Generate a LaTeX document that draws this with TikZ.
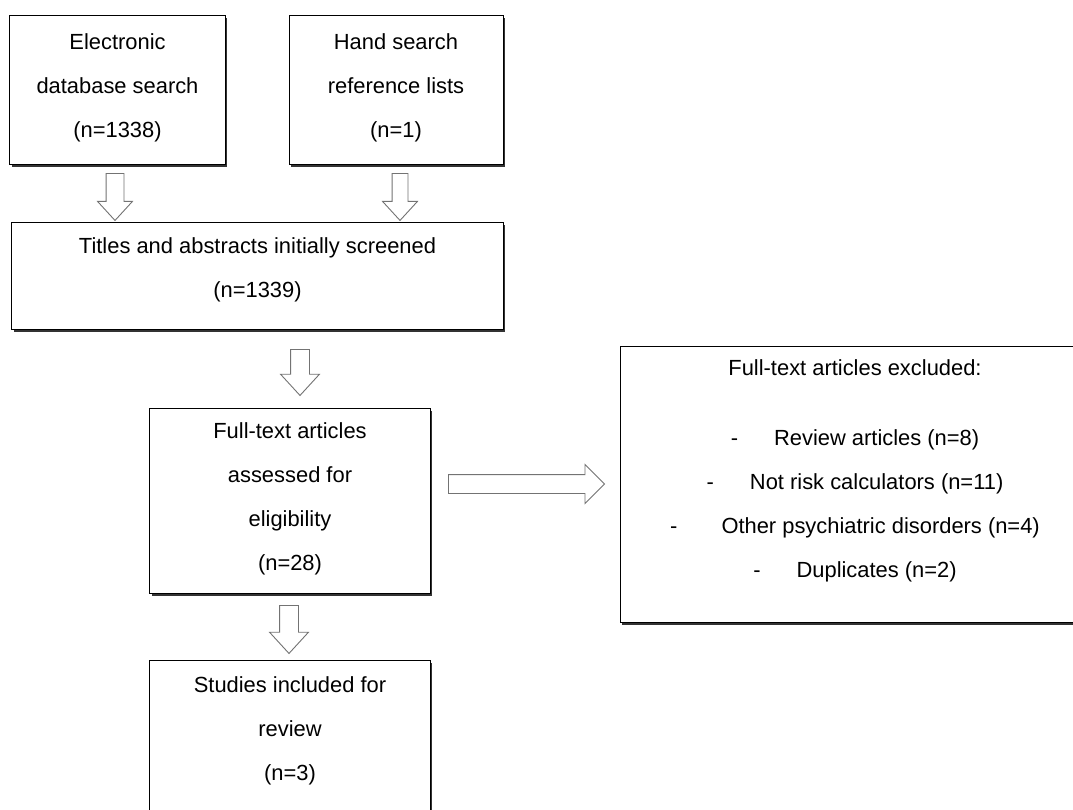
\documentclass[tikz,border=0pt]{standalone}
\usepackage{fontspec}
\setmainfont{Liberation Sans}
\usetikzlibrary{shapes.arrows,shadows}

\begin{document}
\begin{tikzpicture}[x=1bp, y=-1bp]
  % \draw[help lines] (0,0) grid (1073,810);

  \tikzset{box/.style={rectangle,draw,line width=1bp,fill=white,align=center,
      inner sep=0pt,font=\fontsize{21.9bp}{44bp}\selectfont,
      drop shadow={shadow xshift=2bp,shadow yshift=-2.5bp,opacity=1,fill=black!80}}}
  \tikzset{block arrow/.style={single arrow,draw=black!55,line width=.9bp,fill=white,
      inner xsep=0pt,inner ysep=9bp,minimum width=38bp,single arrow head extend=10bp,
      single arrow tip angle=85,anchor=tail}}

  \useasboundingbox (0,0) rectangle (1073,810);
  \clip (0,0) rectangle (1073,810);
  \fill[white] (0,0) rectangle (1073,810);

  \path
    (117.5, 90) node[box, minimum width=215bp, minimum height=148bp, text depth=9.6bp](search)
        {Electronic\\ database search\\ (n=1338)}
    (396, 90) node[box, minimum width=214bp, minimum height=148bp, text depth=9.6bp](hand)
        {Hand search\\ reference lists\\ (n=1)}
    (257.5, 275.5) node[box, minimum width=491bp, minimum height=107bp, text depth=15.6bp](screen)
        {Titles and abstracts initially screened\\ (n=1339)}
    (290, 500.5) node[box, minimum width=280bp, minimum height=185bp, text depth=7.6bp](fulltext)
        {Full-text articles\\ assessed for\\ eligibility\\ (n=28)}
    (290, 745) node[box, minimum width=280bp, minimum height=170bp, text depth=32.6bp](included)
        {Studies included for\\ review\\ (n=3)}
    (855, 484) node[box, minimum width=470bp, minimum height=276bp, text depth=30.6bp](excluded)
        {Full-text articles excluded:\\[26bp]
         -\hspace{36bp}Review articles (n=8)\\
         -\hspace{36bp}Not risk calculators (n=11)\\
         -\hspace{44bp}Other psychiatric disorders (n=4)\\
         -\hspace{36bp}Duplicates (n=2)}
  ;

  \path
    (115, 173) node[block arrow, rotate=-90, minimum height=47bp, minimum width=34bp,
        inner ysep=8.5bp, single arrow head extend=8.5bp](arr search){}
    (400, 173) node[block arrow, rotate=-90, minimum height=47bp, minimum width=34bp,
        inner ysep=7.5bp, single arrow head extend=9.5bp](arr hand){}
    (300, 349) node[block arrow, rotate=-90, minimum height=46bp](arr screen){}
    (289, 605) node[block arrow, rotate=-90, minimum height=48bp](arr fulltext){}
    (448, 484) node[block arrow, minimum height=156bp, single arrow tip angle=90](arr excluded){}
  ;

\end{tikzpicture}
\end{document}
